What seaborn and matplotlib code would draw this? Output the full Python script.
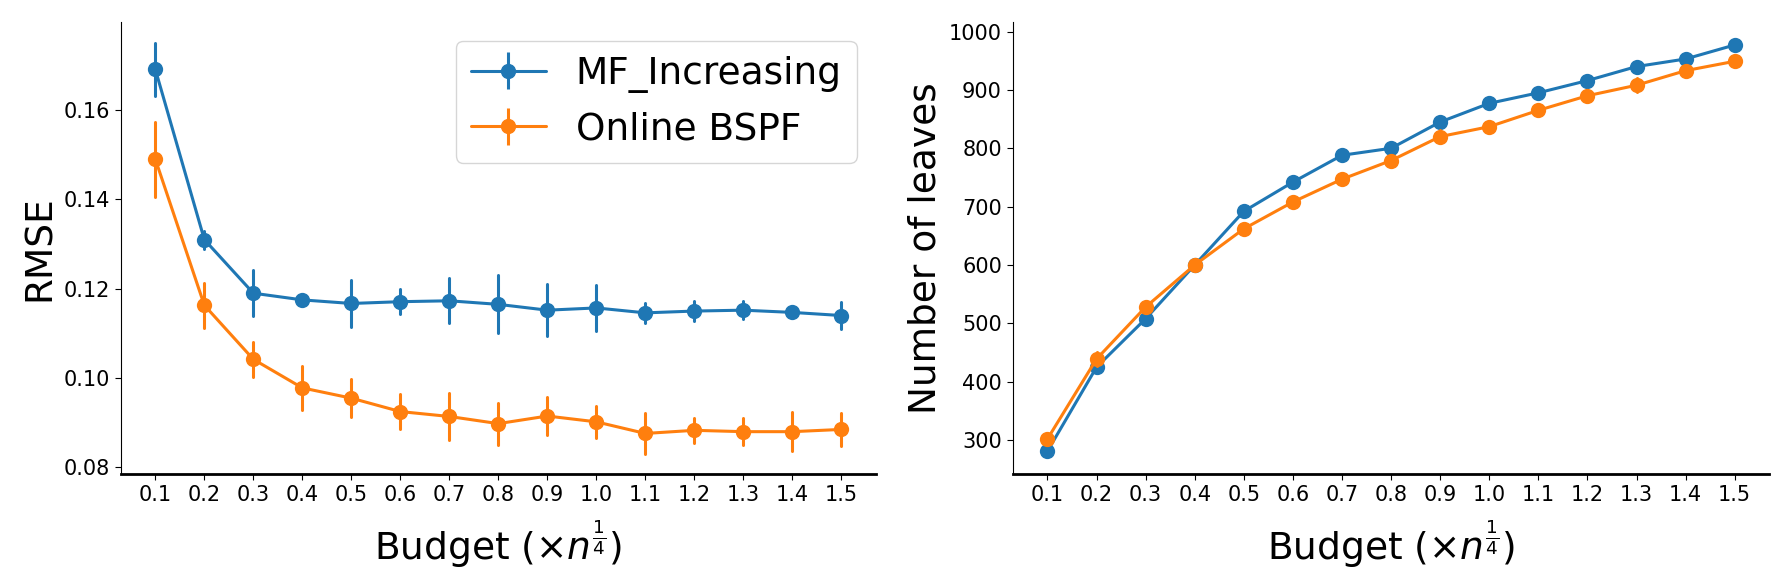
import numpy as np
import pandas as pd
import matplotlib
matplotlib.use("Agg")
import matplotlib.pyplot as plt
import seaborn as sns

budget = [0.1, 0.2, 0.3, 0.4, 0.5, 0.6, 0.7, 0.8, 0.9, 1.0, 1.1, 1.2, 1.3, 1.4, 1.5]
methods = ["MF_Increasing", "Online BSPF"]

rmse_mf = [0.1691, 0.1310, 0.1190, 0.1175, 0.1167, 0.1171, 0.1173, 0.1165, 0.1152, 0.1157,
           0.1146, 0.1150, 0.1152, 0.1147, 0.1140]
rmse_mf_err = [0.0060, 0.0020, 0.0052, 0.0006, 0.0052, 0.0028, 0.0050, 0.0065, 0.0058, 0.0052,
               0.0023, 0.0023, 0.0020, 0.0010, 0.0030]
rmse_bspf = [0.1490, 0.1163, 0.1042, 0.0978, 0.0955, 0.0925, 0.0914, 0.0898, 0.0915, 0.0902,
             0.0876, 0.0883, 0.0880, 0.0880, 0.0885]
rmse_bspf_err = [0.0084, 0.0050, 0.0039, 0.0050, 0.0042, 0.0040, 0.0052, 0.0047, 0.0042, 0.0036,
                 0.0045, 0.0028, 0.0030, 0.0043, 0.0036]

leaves_mf = [281, 425, 508, 600, 692, 742, 788, 800, 845, 877, 895, 916, 940, 953, 977]
leaves_mf_err = [4, 8, 5, 3, 8, 10, 4, 4, 9, 4, 4, 4, 10, 4, 4]
leaves_bspf = [302, 439, 528, 600, 662, 708, 747, 779, 820, 837, 865, 890, 908, 933, 949]
leaves_bspf_err = [8, 12, 5, 3, 10, 11, 5, 4, 11, 4, 4, 4, 12, 4, 4]


def long_table(mf, mf_err, bspf, bspf_err):
    # three rows per point: mean - err, mean, mean + err -> min/max interval is the error bar
    rows = []
    for name, m, e in [(methods[0], mf, mf_err), (methods[1], bspf, bspf_err)]:
        for b, v, d in zip(budget, m, e):
            for s in (-1, 0, 1):
                rows.append({"budget": b, "value": v + s * d, "method": name})
    return pd.DataFrame(rows)


sns.set_style("ticks")
plt.rcParams.update({"text.color": "black", "axes.labelcolor": "black",
                     "xtick.color": "black", "ytick.color": "black",
                     "axes.edgecolor": "black", "xtick.major.size": 4.5,
                     "ytick.major.size": 4.5})
pal = sns.color_palette("tab10")[:2]

fig = plt.figure(figsize=(17.88, 5.81), dpi=100)
ax1 = fig.add_axes([0.0677, 0.184, 0.422, 0.778])
ax2 = fig.add_axes([0.5666, 0.184, 0.4228, 0.778])

for ax, df, ylab in [(ax1, long_table(rmse_mf, rmse_mf_err, rmse_bspf, rmse_bspf_err), "RMSE"),
                     (ax2, long_table(leaves_mf, leaves_mf_err, leaves_bspf, leaves_bspf_err),
                      "Number of leaves")]:
    sns.lineplot(data=df, x="budget", y="value", hue="method", palette=pal,
                 estimator="mean", errorbar=("pi", 100), err_style="bars",
                 marker="o", markersize=11, markeredgewidth=0, linewidth=2.2,
                 err_kws={"elinewidth": 2.2}, legend=False, ax=ax)
    ax.set_xticks(budget)
    ax.set_xticklabels([f"{b:.1f}" for b in budget])
    ax.tick_params(labelsize=15)
    ax.set_xlabel(r"Budget ($\times n^{\frac{1}{4}}$)", fontsize=27, labelpad=10)
    ax.set_ylabel(ylab, fontsize=27)
    sns.despine(ax=ax)
    ax.spines["bottom"].set_linewidth(2)

ax1.set_yticks([0.08, 0.10, 0.12, 0.14, 0.16])
ax2.set_yticks([300, 400, 500, 600, 700, 800, 900, 1000])

handles = []
for name, c in zip(methods, pal):
    h = ax1.errorbar([np.nan], [np.nan], yerr=[1], color=c, marker="o", markersize=10,
                     linewidth=2.2, elinewidth=2.2, label=name)
    handles.append(h)
ax1.legend(handles=handles, fontsize=27, loc="upper right")

fig.savefig("out.png", dpi=100)
